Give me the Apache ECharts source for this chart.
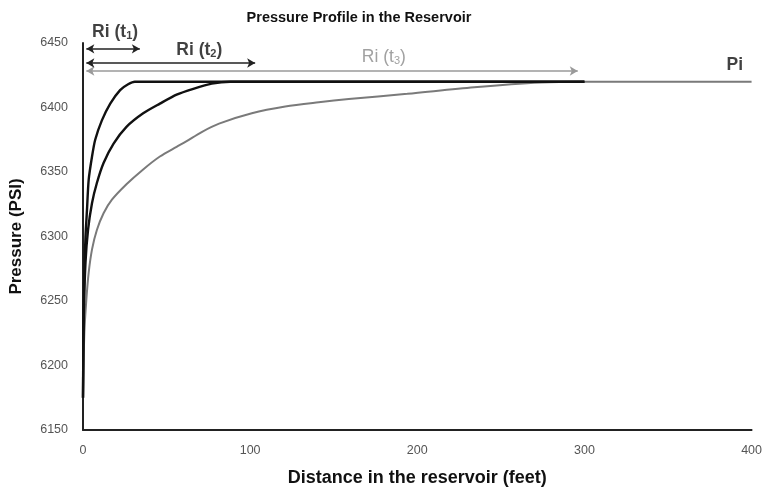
<!DOCTYPE html>
<html>
<head>
<meta charset="utf-8">
<script src="https://cdn.jsdelivr.net/npm/echarts@6/dist/echarts.min.js"></script>
<style>
  html, body { margin: 0; padding: 0; background: #fff; }
  #chart { width: 765px; height: 492px; }
</style>
</head>
<body>
<div id="chart"></div>
<script>
// Pressure vs distance [feet, psi] at three successive times
const profileT1 = [
  [0, 6175], [0.3, 6230], [0.8, 6272], [1.5, 6300], [2.4, 6321], [3.4, 6344],
  [5.4, 6362], [7.3, 6375], [11.3, 6390], [16.3, 6403], [22.2, 6413.5],
  [27, 6418], [31, 6420], [300, 6420]
];
const profileT2 = [
  [0, 6175], [0.5, 6240], [1.5, 6280], [3, 6305], [5.4, 6326], [8.3, 6341.5],
  [12.3, 6357], [18.3, 6372], [26, 6385], [36, 6395.5], [46, 6403], [56, 6410],
  [66, 6414.5], [77, 6418.5], [88, 6420], [97, 6420], [300, 6420]
];
const profileT3 = [
  [0, 6175], [0.8, 6225], [2, 6251], [3.4, 6272], [5.4, 6290], [8.3, 6305],
  [12.3, 6318], [17.3, 6328.5], [26, 6340.5], [36, 6352], [46, 6362], [56, 6369.5],
  [61.5, 6373.5], [71, 6381], [81.4, 6387.5], [101, 6395.5], [121, 6400.7], [141, 6404],
  [159, 6406.5], [194, 6410.6], [234, 6415.7], [274, 6419.4], [300, 6420], [400, 6420]
];

// Radius of investigation spans: [from, to, pressure level]
const radiusT1 = [2, 34, 6445.5];
const radiusT2 = [2, 103, 6434.5];
const radiusT3 = [2, 296, 6428.3];

// Annotation anchors: [feet, psi]
const labelT1 = [19.2, 6458.5];
const labelT2 = [69.6, 6444.6];
const labelT3 = [180, 6439];
const labelPi = [390, 6433];

const xTicks = { min: 0, max: 400, interval: 100 };
const yTicks = { min: 6150, max: 6450, interval: 50 };

const FONT = 'Liberation Sans';
const chart = echarts.init(document.getElementById('chart'), null, { renderer: 'canvas' });

function spanLine(span, color) {
  return {
    silent: true,
    symbol: ['arrow', 'arrow'],
    symbolSize: [7, 8],
    label: { show: false },
    lineStyle: { color: color, width: 1.5, type: 'solid' },
    emphasis: { disabled: true },
    data: [[{ coord: [span[0], span[2]] }, { coord: [span[1], span[2]] }]]
  };
}

function textMark(pos, name, sub, color, weight) {
  return {
    type: 'scatter',
    data: [pos],
    symbolSize: 0,
    clip: false,
    silent: true,
    z: 10,
    label: {
      show: true,
      position: 'inside',
      formatter: sub ? '{m|' + name + ' (t}{s|' + sub + '}{m|)}' : '{m|' + name + '}',
      rich: {
        m: { fontFamily: FONT, fontSize: 17.5, fontWeight: weight, color: color },
        s: { fontFamily: FONT, fontSize: 11, fontWeight: weight, color: color, padding: [8, 0, 0, 0] }
      }
    }
  };
}

chart.setOption({
  animation: false,
  backgroundColor: '#ffffff',
  title: {
    text: 'Pressure Profile in the Reservoir',
    left: 354,
    top: 5,
    textAlign: 'center',
    textStyle: { fontFamily: FONT, fontSize: 14.5, fontWeight: 'bold', color: '#111' }
  },
  grid: { left: 80, right: 13, top: 43, bottom: 61, containLabel: false },
  xAxis: {
    type: 'value',
    min: xTicks.min, max: xTicks.max, interval: xTicks.interval,
    name: 'Distance in the reservoir (feet)',
    nameLocation: 'middle',
    nameGap: 39,
    nameTextStyle: { fontFamily: FONT, fontSize: 18, fontWeight: 'bold', color: '#111' },
    axisLine: { show: true, lineStyle: { color: '#222', width: 2 } },
    axisTick: { show: false },
    splitLine: { show: false },
    axisLabel: { fontFamily: FONT, fontSize: 12.5, color: '#555', margin: 14 }
  },
  yAxis: {
    type: 'value',
    min: yTicks.min, max: yTicks.max, interval: yTicks.interval,
    name: 'Pressure (PSI)',
    nameLocation: 'middle',
    nameGap: 58,
    nameRotate: 90,
    nameTextStyle: { fontFamily: FONT, fontSize: 17, fontWeight: 'bold', color: '#111' },
    axisLine: { show: true, lineStyle: { color: '#222', width: 2 } },
    axisTick: { show: false },
    splitLine: { show: false },
    axisLabel: { fontFamily: FONT, fontSize: 12.5, color: '#555', margin: 15, formatter: v => String(v) }
  },
  series: [
    {
      name: 't3', type: 'line', data: profileT3, showSymbol: false, smooth: 0.3,
      lineStyle: { color: '#7a7a7a', width: 2 }, z: 3,
      markLine: spanLine(radiusT3, '#9a9a9a')
    },
    {
      name: 't2', type: 'line', data: profileT2, showSymbol: false, smooth: 0.25,
      lineStyle: { color: '#111', width: 2.4 }, z: 4,
      markLine: spanLine(radiusT2, '#222')
    },
    {
      name: 't1', type: 'line', data: profileT1, showSymbol: false, smooth: 0.25,
      lineStyle: { color: '#111', width: 2.4 }, z: 5,
      markLine: spanLine(radiusT1, '#222')
    },
    textMark(labelT1, 'Ri', '1', '#111', 'bold'),
    textMark(labelT2, 'Ri', '2', '#111', 'bold'),
    textMark(labelT3, 'Ri', '3', '#8a8a8a', 'normal'),
    textMark(labelPi, 'Pi', null, '#111', 'bold')
  ]
});
</script>
</body>
</html>
